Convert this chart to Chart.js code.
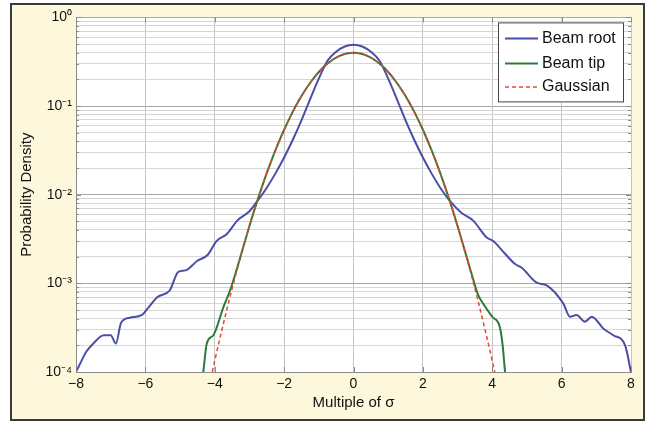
<!DOCTYPE html>
<html><head><meta charset="utf-8">
<script src="https://cdn.jsdelivr.net/npm/chart.js@4/dist/chart.umd.min.js"></script>
<style>
html,body{margin:0;padding:0;background:#fff;}
#frame{position:absolute;left:10px;top:3px;width:631px;height:414px;border:2px solid #3a3a3a;background:#fdf8dc;}
#c{display:block;}
</style></head><body>
<div id="frame"><canvas id="c" width="631" height="414"></canvas></div>
<script>
// ---- data ----
const seriesNames = ['Beam root', 'Beam tip', 'Gaussian'];

const rootX = [-8.0,-7.9,-7.7,-7.5,-7.2,-7.0,-6.85,-6.7,-6.45,-6.1,-5.9,-5.65,-5.3,-5.05,-4.85,-4.5,-4.2,-3.95,-3.65,-3.35,-3.0,-2.75,-2.5,-2.25,-2.0,-1.75,-1.5,-1.25,-1.0,-0.75,-0.5,-0.25,0,0.25,0.5,0.75,1.0,1.25,1.5,1.75,2.0,2.25,2.5,2.78,3.1,3.45,3.84,4.03,4.35,4.65,4.85,5.28,5.57,6.05,6.24,6.43,6.67,6.87,7.2,7.49,7.83,8.0];
const rootY = [1.0e-4,1.2e-4,1.7e-4,2.1e-4,2.6e-4,2.6e-4,2.1e-4,3.6e-4,4.1e-4,4.4e-4,5.4e-4,7.0e-4,8.3e-4,1.35e-3,1.4e-3,1.8e-3,2.1e-3,3.0e-3,3.6e-3,5.1e-3,6.5e-3,8.7e-3,1.2e-2,1.74e-2,2.63e-2,4.17e-2,6.9e-2,0.12,0.204,0.324,0.41,0.47,0.49,0.47,0.41,0.324,0.204,0.12,6.9e-2,4.17e-2,2.63e-2,1.74e-2,1.2e-2,8.5e-3,6.3e-3,5.1e-3,3.3e-3,3.0e-3,2.2e-3,1.66e-3,1.5e-3,1.02e-3,9.5e-4,5.9e-4,4.2e-4,4.4e-4,3.7e-4,4.2e-4,3.1e-4,2.6e-4,2.0e-4,1.0e-4];

const tipX = [-4.4,-4.33,-4.23,-4.04,-3.75,-3.56,-3.4,-3.2,-3.0,-2.8,-2.6,-2.4,-2.2,-2.0,-1.8,-1.6,-1.4,-1.2,-1.0,-0.8,-0.6,-0.4,-0.2,0,0.2,0.4,0.6,0.8,1.0,1.2,1.4,1.6,1.8,2.0,2.2,2.4,2.6,2.8,3.0,3.2,3.4,3.6,3.74,4.0,4.22,4.3,4.37,4.45];
const tipY = [6e-5,1.0e-4,2.1e-4,2.6e-4,5.4e-4,8.3e-4,1.3e-3,2.4e-3,4.43e-3,7.92e-3,1.36e-2,2.24e-2,3.55e-2,5.40e-2,7.90e-2,0.1109,0.1497,0.1942,0.2420,0.2897,0.3332,0.3683,0.3910,0.3989,0.3910,0.3683,0.3332,0.2897,0.2420,0.1942,0.1497,0.1109,7.90e-2,5.40e-2,3.55e-2,2.24e-2,1.36e-2,7.92e-3,4.43e-3,2.4e-3,1.3e-3,7.3e-4,5.9e-4,4.2e-4,3.2e-4,2.0e-4,1.0e-4,6e-5];

const gaussX = [-4.2,-4.0,-3.8,-3.6,-3.4,-3.2,-3.0,-2.8,-2.6,-2.4,-2.2,-2.0,-1.8,-1.6,-1.4,-1.2,-1.0,-0.8,-0.6,-0.4,-0.2,0,0.2,0.4,0.6,0.8,1.0,1.2,1.4,1.6,1.8,2.0,2.2,2.4,2.6,2.8,3.0,3.2,3.4,3.6,3.8,4.0,4.2];
const gaussY = [5.89e-5,1.34e-4,2.92e-4,6.12e-4,1.23e-3,2.38e-3,4.43e-3,7.92e-3,1.36e-2,2.24e-2,3.55e-2,5.40e-2,7.90e-2,0.1109,0.1497,0.1942,0.2420,0.2897,0.3332,0.3683,0.3910,0.3989,0.3910,0.3683,0.3332,0.2897,0.2420,0.1942,0.1497,0.1109,7.90e-2,5.40e-2,3.55e-2,2.24e-2,1.36e-2,7.92e-3,4.43e-3,2.38e-3,1.23e-3,6.12e-4,2.92e-4,1.34e-4,5.89e-5];

const xTicks = [-8,-6,-4,-2,0,2,4,6,8];
const xTickLabels = ['\u22128','\u22126','\u22124','\u22122','0','2','4','6','8'];
const yDecades = [1e-4,1e-3,1e-2,1e-1,1];
const yTickLabels = ['10\u207B\u2074','10\u207B\u00B3','10\u207B\u00B2','10\u207B\u00B9','10\u2070'];
const xTitle = 'Multiple of \u03C3';
const yTitle = 'Probability Density';

// ---- styling ----
const colors = ['#4a4ea6', '#2c7a3a', '#e8482e'];
const FONT = "'Liberation Sans', Arial, sans-serif";
const toPts = (xs, ys) => xs.map((x, i) => ({x, y: ys[i]}));

const yAll = [];
yDecades.forEach((d, i) => {
  if (i < yDecades.length - 1) { for (let m = 1; m <= 9; m++) yAll.push(m * d); }
  else yAll.push(d);
});
const isDecade = v => yDecades.some(d => Math.abs(Math.log10(v) - Math.log10(d)) < 1e-6);

const legendPlugin = {
  id: 'boxLegend',
  afterDraw(chart) {
    const ctx = chart.ctx, a = chart.chartArea;
    // inner tick marks (box style axes)
    const xs = chart.scales.x, ys = chart.scales.y;
    ctx.save();
    ctx.strokeStyle = '#8a8a8a';
    ctx.lineWidth = 1;
    ctx.beginPath();
    ys.ticks.forEach(t => {
      const py = Math.round(ys.getPixelForValue(t.value)) + 0.5;
      const len = isDecade(t.value) ? 5 : 3;
      ctx.moveTo(a.left, py); ctx.lineTo(a.left + len, py);
      ctx.moveTo(a.right, py); ctx.lineTo(a.right - len, py);
    });
    xs.ticks.forEach(t => {
      const px = Math.round(xs.getPixelForValue(t.value)) + 0.5;
      ctx.moveTo(px, a.bottom); ctx.lineTo(px, a.bottom - 5);
      ctx.moveTo(px, a.top); ctx.lineTo(px, a.top + 5);
    });
    ctx.stroke();
    ctx.restore();

    const right = a.right - 7, top = a.top + 5, w = 126, h = 80;
    const left = right - w;
    ctx.save();
    ctx.fillStyle = '#ffffff';
    ctx.fillRect(left, top, w, h);
    ctx.strokeStyle = '#444';
    ctx.lineWidth = 1;
    ctx.strokeRect(left + 0.5, top + 0.5, w - 1, h - 1);
    const rows = [16, 41, 64.5];
    seriesNames.forEach((name, i) => {
      const y = top + rows[i];
      ctx.beginPath();
      ctx.strokeStyle = colors[i];
      ctx.lineWidth = i === 2 ? 1.5 : 2;
      ctx.setLineDash(i === 2 ? [4, 3] : []);
      ctx.moveTo(left + 7, y);
      ctx.lineTo(left + 40, y);
      ctx.stroke();
      ctx.setLineDash([]);
      ctx.fillStyle = '#111';
      ctx.font = '16px ' + FONT;
      ctx.textBaseline = 'middle';
      ctx.fillText(name, left + 44, y);
    });
    ctx.restore();
  }
};

new Chart(document.getElementById('c'), {
  type: 'scatter',
  data: {
    datasets: [
      {label: seriesNames[0], data: toPts(rootX, rootY), showLine: true, borderColor: colors[0], borderWidth: 2, pointRadius: 0, cubicInterpolationMode: 'monotone', order: 3},
      {label: seriesNames[1], data: toPts(tipX, tipY), showLine: true, borderColor: colors[1], borderWidth: 2, pointRadius: 0, cubicInterpolationMode: 'monotone', order: 2},
      {label: seriesNames[2], data: toPts(gaussX, gaussY), showLine: true, borderColor: colors[2], borderWidth: 1.5, borderDash: [4, 3], pointRadius: 0, cubicInterpolationMode: 'monotone', order: 1}
    ]
  },
  options: {
    responsive: false,
    animation: false,
    devicePixelRatio: 1,
    layout: {padding: {top: 11, right: 12, left: 0, bottom: 0}},
    plugins: {legend: {display: false}, tooltip: {enabled: false}},
    scales: {
      x: {
        type: 'linear', min: -8, max: 8,
        afterBuildTicks: s => { s.ticks = xTicks.map(v => ({value: v})); },
        afterFit: s => { s.height = 47; },
        ticks: {autoSkip: false, maxRotation: 0, padding: 4, color: '#111', font: {family: FONT, size: 14},
          callback: v => { const i = xTicks.indexOf(v); return i >= 0 ? xTickLabels[i] : ''; }},
        grid: {color: '#c4c4c4', lineWidth: 1, drawTicks: false},
        border: {color: '#8a8a8a', width: 1},
        title: {display: true, text: xTitle, color: '#111', font: {family: FONT, size: 15}, padding: {top: 0, bottom: 7}}
      },
      y: {
        type: 'logarithmic', min: 1e-4, max: 1,
        afterBuildTicks: s => { s.ticks = yAll.map(v => ({value: v})); },
        afterFit: s => { s.width = 64; },
        ticks: {autoSkip: false, padding: 4, color: '#111', font: {family: FONT, size: 14},
          callback: v => { const i = yDecades.findIndex(d => Math.abs(Math.log10(v) - Math.log10(d)) < 1e-6); return i >= 0 ? yTickLabels[i] : ''; }},
        grid: {color: c => (c.tick && isDecade(c.tick.value)) ? '#a8a8a8' : '#d6d6d6', lineWidth: 1, drawTicks: false},
        border: {color: '#8a8a8a', width: 1},
        title: {display: true, text: yTitle, color: '#111', font: {family: FONT, size: 15}, padding: {top: 6, bottom: 0}}
      }
    }
  },
  plugins: [legendPlugin, {
    id: 'plotBg',
    beforeDraw(chart) {
      const {ctx, chartArea: a} = chart;
      ctx.save(); ctx.fillStyle = '#ffffff';
      ctx.fillRect(a.left, a.top, a.right - a.left, a.bottom - a.top);
      ctx.restore();
    }
  }]
});
</script>
</body></html>
